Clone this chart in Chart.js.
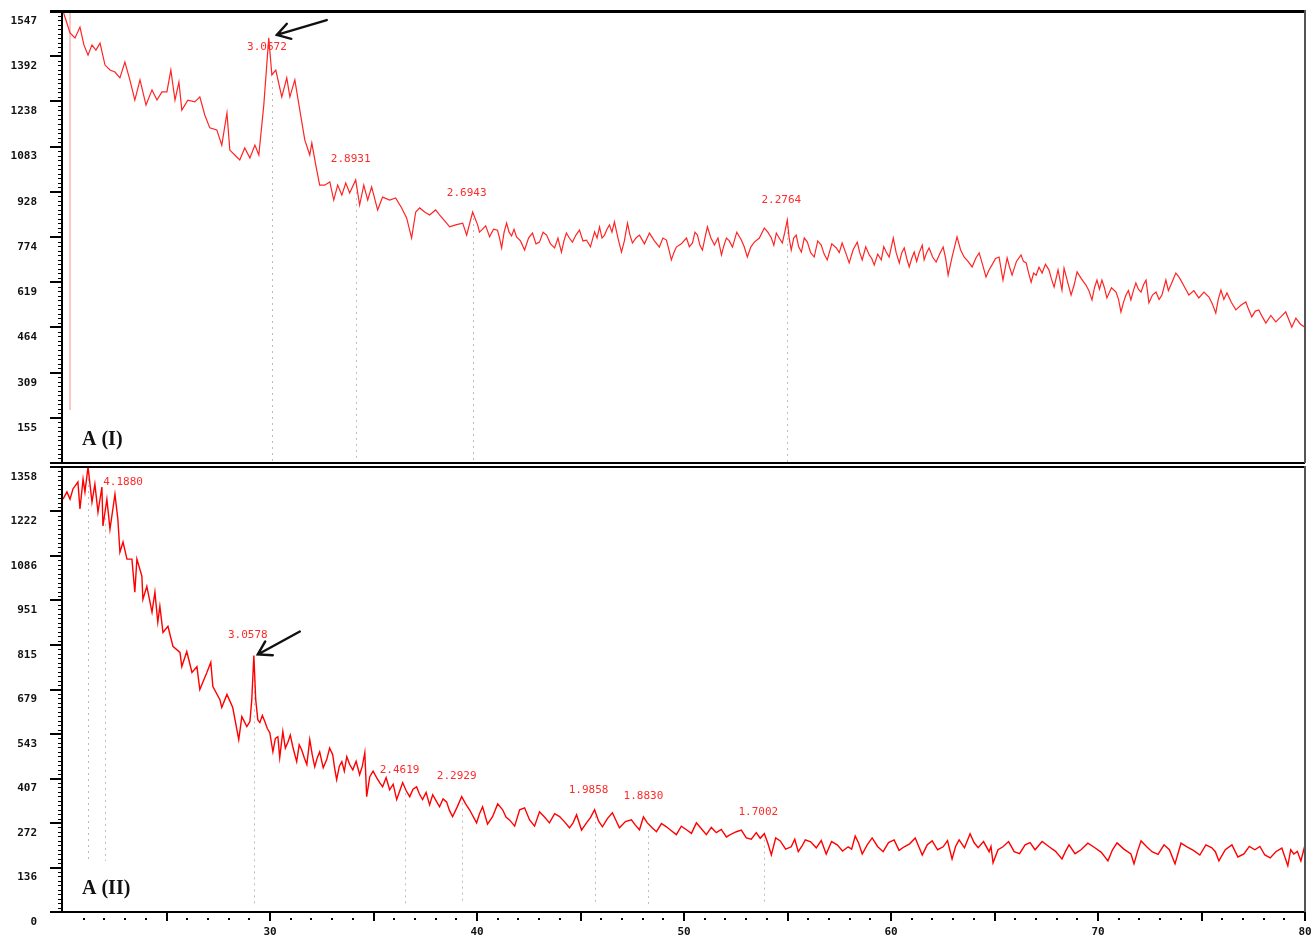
<!DOCTYPE html>
<html>
<head>
<meta charset="utf-8">
<script src="https://cdn.jsdelivr.net/npm/chart.js@4.4.1/dist/chart.umd.min.js"></script>
<style>
body { margin: 0; background: #fff; }
#wrap { position: relative; width: 1312px; height: 935px; overflow: hidden; }
canvas { position: absolute; left: 0; }
#cI { top: 0; }
#cII { top: 465px; }
</style>
</head>
<body>
<div id="wrap">
<canvas id="cI" width="1312" height="465"></canvas>
<canvas id="cII" width="1312" height="470"></canvas>
</div>
<script>
/* A (I) pattern: 2-theta and counts */
var twoThetaI = [
	20.00, 20.14, 20.34, 20.58, 20.82, 21.01, 21.21, 21.40, 21.59, 21.79,
	22.03, 22.27, 22.51, 22.75, 22.99, 23.23, 23.47, 23.72, 24.01, 24.30,
	24.54, 24.78, 25.02, 25.21, 25.41, 25.60, 25.74, 26.03, 26.37, 26.61,
	26.85, 27.09, 27.43, 27.67, 27.92, 28.06, 28.30, 28.54, 28.78, 29.03,
	29.27, 29.46, 29.70, 29.94, 30.09, 30.28, 30.57, 30.81, 30.96, 31.20,
	31.44, 31.68, 31.92, 32.02, 32.21, 32.40, 32.64, 32.89, 33.08, 33.27,
	33.47, 33.66, 33.85, 34.14, 34.33, 34.53, 34.72, 34.91, 35.20, 35.44,
	35.78, 36.07, 36.36, 36.60, 36.84, 37.04, 37.23, 37.47, 37.71, 38.00,
	38.19, 38.48, 38.68, 38.97, 39.31, 39.50, 39.79,
	40.03, 40.12, 40.22, 40.42, 40.61, 40.80, 40.99, 41.09, 41.19, 41.31,
	41.43, 41.55, 41.67, 41.79, 41.91, 42.10, 42.30, 42.49, 42.68, 42.85,
	43.02, 43.19, 43.36, 43.55, 43.75, 43.91, 44.08, 44.20, 44.32, 44.46,
	44.61, 44.78, 44.95, 45.12, 45.29, 45.48, 45.68, 45.80, 45.92, 46.04,
	46.16, 46.28, 46.40, 46.52, 46.64, 46.81, 46.98, 47.12, 47.27, 47.39,
	47.51, 47.68, 47.85, 48.09, 48.33, 48.57, 48.81, 48.98, 49.15, 49.27,
	49.39, 49.51, 49.63, 49.87, 50.12, 50.26, 50.41, 50.53, 50.65, 50.77,
	50.89, 51.01, 51.13, 51.30, 51.47, 51.64, 51.81, 51.93, 52.05, 52.19,
	52.34, 52.55, 52.77, 52.91, 53.06, 53.23, 53.40, 53.64, 53.88, 54.05,
	54.22, 54.34, 54.46, 54.60, 54.75, 54.87, 54.99, 55.08, 55.18, 55.30,
	55.42, 55.54, 55.67, 55.81, 55.96, 56.12, 56.29, 56.46, 56.63, 56.77,
	56.92, 57.14, 57.36, 57.50, 57.64, 57.81, 57.98, 58.17, 58.37, 58.49,
	58.61, 58.78, 58.95, 59.07, 59.19, 59.36, 59.53, 59.65, 59.77, 59.91,
	60.11, 60.25, 60.40, 60.52, 60.64, 60.76, 60.88, 61.00, 61.12, 61.24,
	61.36, 61.51, 61.60, 61.72, 61.84, 62.01, 62.18, 62.35, 62.52, 62.64,
	62.76, 62.95, 63.19, 63.36, 63.53, 63.72, 63.92, 64.09, 64.26, 64.42,
	64.59, 64.73, 64.88, 65.05, 65.22, 65.41, 65.61, 65.73, 65.85, 66.06,
	66.28, 66.40, 66.53, 66.65, 66.77, 66.89, 67.01, 67.15, 67.30, 67.46,
	67.63, 67.75, 67.88, 68.07, 68.26, 68.36, 68.53, 68.70, 68.85, 68.99,
	69.20, 69.42, 69.56, 69.71, 69.83, 69.95, 70.07, 70.19, 70.31, 70.43,
	70.65, 70.87, 70.99, 71.11, 71.23, 71.35, 71.47, 71.59, 71.71, 71.83,
	71.95, 72.08, 72.20, 72.32, 72.46, 72.63, 72.80, 72.95, 73.09, 73.28,
	73.40, 73.52, 73.64, 73.76, 73.88, 74.00, 74.20, 74.39, 74.63, 74.87,
	75.12, 75.36, 75.52, 75.69, 75.81, 75.94, 76.08, 76.23, 76.44, 76.66,
	76.90, 77.14, 77.28, 77.43, 77.60, 77.77, 77.94, 78.11, 78.35, 78.59,
	78.83, 79.07, 79.22, 79.36, 79.46, 79.56, 79.78, 80.00
];
var countsI = [
	1547, 1516, 1472, 1455, 1492, 1431, 1396, 1431, 1413, 1437,
	1362, 1345, 1338, 1318, 1372, 1311, 1242, 1311, 1225, 1277,
	1242, 1270, 1270, 1345, 1242, 1304, 1208, 1242, 1236, 1253,
	1191, 1147, 1140, 1088, 1198, 1071, 1054, 1037, 1078, 1044,
	1088, 1054, 1225, 1455, 1328, 1345, 1253, 1318, 1253, 1311,
	1208, 1106, 1054, 1095, 1020, 951, 951, 962, 900, 951,
	917, 958, 924, 969, 883, 951, 900, 945, 866, 910,
	900, 907, 873, 839, 770, 859, 873, 859, 849, 866,
	849, 825, 808, 815, 821, 780, 859,
	815, 790, 797, 812, 774, 800, 797, 770, 736, 790,
	821, 790, 777, 800, 774, 760, 729, 770, 787, 750,
	756, 790, 780, 750, 736, 770, 722, 760, 787, 770,
	756, 780, 797, 760, 763, 740, 791, 770, 808, 770,
	780, 800, 815, 790, 825, 770, 722, 760, 821, 780,
	753, 770, 780, 750, 787, 760, 739, 770, 763, 730,
	695, 720, 739, 750, 770, 740, 753, 790, 780, 745,
	729, 770, 808, 770, 746, 770, 712, 745, 770, 760,
	739, 790, 763, 740, 705, 740, 756, 770, 804, 790,
	770, 745, 787, 770, 753, 790, 832, 770, 729, 770,
	780, 740, 722, 770, 756, 720, 705, 760, 746, 715,
	695, 750, 736, 720, 753, 720, 685, 730, 756, 720,
	695, 740, 712, 700, 678, 715, 695, 740, 722, 705,
	770, 720, 685, 720, 736, 700, 671, 700, 722, 690,
	719, 746, 695, 720, 736, 705, 688, 715, 739, 700,
	643, 705, 774, 730, 705, 690, 671, 700, 719, 680,
	637, 660, 678, 700, 705, 626, 702, 670, 643, 690,
	712, 690, 685, 650, 619, 650, 643, 670, 650, 680,
	661, 630, 602, 661, 592, 667, 620, 575, 610, 654,
	630, 609, 590, 558, 600, 626, 595, 626, 600, 565,
	600, 585, 560, 517, 550, 575, 590, 558, 590, 616,
	595, 585, 610, 626, 548, 575, 585, 560, 575, 626,
	590, 609, 630, 650, 640, 626, 600, 575, 590, 565,
	585, 568, 545, 513, 560, 592, 560, 582, 550, 524,
	540, 551, 525, 500, 520, 524, 500, 479, 505, 483,
	500, 517, 490, 465, 480, 496, 475, 465
];

/* A (II) pattern */
var twoThetaII = [
	20.00, 20.19, 20.34, 20.48, 20.72, 20.82, 20.97, 21.06, 21.21, 21.40,
	21.54, 21.69, 21.88, 21.93, 22.12, 22.27, 22.51, 22.65, 22.75, 22.90,
	23.09, 23.33, 23.47, 23.57, 23.81, 23.86, 24.05, 24.30, 24.44, 24.58,
	24.68, 24.83, 25.07, 25.31, 25.65, 25.74, 25.98, 26.23, 26.47, 26.61,
	26.95, 27.14, 27.24, 27.58, 27.67, 27.92, 28.20, 28.49, 28.64, 28.88,
	29.03, 29.12, 29.22, 29.31, 29.41,
	29.51, 29.63, 29.75, 29.87, 29.99, 30.14, 30.26, 30.38, 30.47, 30.62,
	30.74, 30.86, 30.98, 31.10, 31.20, 31.29, 31.41, 31.53, 31.66, 31.78,
	31.92, 32.04, 32.16, 32.28, 32.40, 32.57, 32.74, 32.88, 33.03, 33.12,
	33.22, 33.35, 33.47, 33.59, 33.71, 33.85, 34.00, 34.16, 34.33, 34.46,
	34.58, 34.67, 34.82, 34.98, 35.15, 35.30, 35.44, 35.61, 35.78, 35.95,
	36.12, 36.27, 36.41, 36.58, 36.75, 36.91, 37.08, 37.22, 37.37, 37.54,
	37.71, 37.86, 38.02, 38.19, 38.36, 38.53, 38.67, 38.82, 39.04, 39.26,
	39.45, 39.64,
	39.98, 40.12, 40.27, 40.51, 40.75, 41.00, 41.24, 41.40, 41.57, 41.82,
	42.06, 42.30, 42.54, 42.78, 43.02, 43.26, 43.50, 43.75, 43.99, 44.23,
	44.47, 44.64, 44.81, 45.05, 45.29, 45.48, 45.68, 45.87, 46.06, 46.30,
	46.54, 46.71, 46.88, 47.17, 47.46, 47.65, 47.85, 48.04, 48.23, 48.45,
	48.67, 48.91, 49.15, 49.39, 49.63, 49.87, 50.12, 50.36, 50.60, 50.84,
	51.08, 51.32, 51.56, 51.80, 52.05, 52.29, 52.53, 52.77, 53.01, 53.25,
	53.49, 53.68, 53.88, 54.05, 54.22, 54.43, 54.65, 54.91, 55.18, 55.35,
	55.52, 55.69, 55.86, 56.12, 56.39, 56.63, 56.87, 57.13, 57.40, 57.66,
	57.93, 58.10, 58.27, 58.44, 58.61, 58.85, 59.09, 59.35, 59.62, 59.88,
	60.15, 60.39, 60.64, 60.90, 61.17, 61.34, 61.51, 61.75, 61.99, 62.25,
	62.52, 62.73, 62.95, 63.12, 63.29, 63.55, 63.82, 64.01, 64.21, 64.47,
	64.74, 64.83, 64.93, 65.17, 65.41, 65.68, 65.95, 66.21, 66.48, 66.72,
	66.96, 67.30, 67.64, 67.95, 68.26, 68.43, 68.60, 68.89, 69.18, 69.51,
	69.85, 70.16, 70.48, 70.70, 70.92, 71.25, 71.59, 71.74, 71.91, 72.08,
	72.34, 72.61, 72.90, 73.19, 73.45, 73.72, 74.01, 74.30, 74.61, 74.92,
	75.21, 75.50, 75.67, 75.84, 76.15, 76.47, 76.76, 77.05, 77.31, 77.58,
	77.82, 78.06, 78.32, 78.59, 78.88, 79.17, 79.31, 79.46, 79.63, 79.80,
	79.90, 80.00
];
var countsII = [
	1260, 1282, 1260, 1291, 1312, 1230, 1321, 1282, 1358, 1251,
	1306, 1220, 1297, 1178, 1260, 1168, 1275, 1199, 1098, 1129,
	1077, 1077, 976, 1077, 1025, 954, 994, 915, 976, 884,
	933, 853, 872, 811, 792, 749, 795, 731, 749, 679,
	731, 762, 688, 648, 624, 664, 624, 526, 596, 566,
	581, 648, 783, 648, 587,
	578, 600, 581, 560, 547, 489, 530, 535, 471, 551,
	500, 517, 540, 505, 480, 459, 510, 495, 470, 450,
	526, 480, 443, 470, 489, 440, 465, 500, 480, 440,
	404, 445, 459, 430, 474, 450, 434, 460, 419, 445,
	486, 352, 413, 430, 410, 395, 382, 410, 373, 390,
	343, 370, 395, 370, 352, 375, 382, 360, 343, 365,
	327, 358, 340, 321, 345, 336, 310, 291, 320, 352,
	330, 312,
	272, 300, 321, 268, 291, 330, 312, 290, 281, 262,
	312, 318, 281, 262, 306, 290, 272, 300, 291, 275,
	257, 272, 297, 250, 272, 288, 312, 278, 260, 285,
	303, 280, 257, 276, 281, 265, 251, 290, 272, 258,
	245, 270, 260, 248, 236, 262, 251, 240, 272, 254,
	236, 258, 242, 252, 229, 238, 245, 250, 226, 222,
	242, 225, 239, 210, 174, 226, 217, 192, 199, 222,
	184, 200, 220, 214, 196, 218, 177, 215, 205, 186,
	199, 192, 232, 210, 177, 205, 226, 200, 184, 212,
	220, 188, 199, 208, 226, 200, 174, 205, 217, 190,
	199, 218, 162, 200, 220, 196, 239, 212, 196, 215,
	184, 200, 150, 190, 199, 215, 184, 178, 205, 212,
	190, 215, 199, 185, 162, 185, 205, 178, 190, 210,
	196, 182, 156, 190, 211, 192, 177, 147, 185, 217,
	200, 184, 176, 205, 190, 147, 210, 199, 188, 174,
	205, 196, 184, 156, 190, 205, 168, 177, 200, 190,
	200, 174, 165, 184, 195, 141, 190, 177, 185, 156,
	180, 205
];

/* tick labels */
var yTicksI = [155, 309, 464, 619, 774, 928, 1083, 1238, 1392, 1547];
var yTicksII = [0, 136, 272, 407, 543, 679, 815, 951, 1086, 1222, 1358];
var xTickLabels = [30, 40, 50, 60, 70, 80];

/* marked reflections (d-spacing labels) */
var peakLinesI = [30.09, 34.14, 39.79, 54.99];
var dTextI = ["3.0672", "2.8931", "2.6943", "2.2764"];
var dTextXI = [29.85, 33.90, 39.50, 54.70];
var dTextYI = [1424, 1040, 924, 900];

var peakLinesII = [21.21, 22.03, 29.22, 36.51, 39.26, 45.68, 48.28, 53.88];
var dTextII = ["4.1880", "3.0578", "2.4619", "2.2929", "1.9858", "1.8830", "1.7002"];
var dTextXII = [22.90, 28.93, 36.26, 39.02, 45.39, 48.04, 53.59];
var dTextYII = [1312, 844, 434, 416, 373, 355, 306];

/* arrows: [x tail, y tail, x tip, y tip] */
var arrowI = [32.74, 1516, 30.33, 1465];
var arrowII = [31.44, 856, 29.41, 786];

function curveAt(xs, ys, x) {
	for (var i = 1; i < xs.length; i++) {
		if (xs[i] >= x) {
			var t = (x - xs[i - 1]) / (xs[i] - xs[i - 1]);
			return ys[i - 1] + t * (ys[i] - ys[i - 1]);
		}
	}
	return ys[ys.length - 1];
}

function pts(xs, ys) {
	return xs.map(function (x, i) { return { x: x, y: ys[i] }; });
}

/* Desenhar eixos, picos e anotacoes */
function decor(o) {
	return {
		id: "decor",
		beforeDatasetsDraw: function (chart) {
			var ctx = chart.ctx, xs = chart.scales.x, ys = chart.scales.y, a = chart.chartArea;
			ctx.save();
			ctx.strokeStyle = "#bcbcbc";
			ctx.lineWidth = 1;
			ctx.setLineDash([2, 4]);
			o.lines.forEach(function (p) {
				var px = Math.round(xs.getPixelForValue(p)) + 0.5;
				var top = ys.getPixelForValue(curveAt(o.xv, o.yv, p)) + 6;
				ctx.beginPath();
				ctx.moveTo(px, top);
				ctx.lineTo(px, a.bottom - o.gap);
				ctx.stroke();
			});
			ctx.restore();
		},
		afterDatasetsDraw: function (chart) {
			var ctx = chart.ctx, xs = chart.scales.x, ys = chart.scales.y, a = chart.chartArea;
			ctx.save();
			// white box behind the panel tag
			ctx.fillStyle = "#fff";
			ctx.fillRect(a.left + 1, a.bottom - 51, 88, 50);
			ctx.fillStyle = "#111";
			ctx.font = "bold 20px 'Liberation Serif'";
			ctx.textBaseline = "alphabetic";
			ctx.fillText(o.tag, a.left + 19, a.bottom - 18);

			// d-spacing labels
			ctx.fillStyle = "#ff2a2a";
			ctx.font = "11px 'DejaVu Sans Mono'";
			ctx.textAlign = "center";
			ctx.textBaseline = "middle";
			o.dText.forEach(function (t, i) {
				ctx.fillText(t, xs.getPixelForValue(o.dX[i]), ys.getPixelForValue(o.dY[i]));
			});

			// arrow
			var x1 = xs.getPixelForValue(o.arrow[0]), y1 = ys.getPixelForValue(o.arrow[1]);
			var x2 = xs.getPixelForValue(o.arrow[2]), y2 = ys.getPixelForValue(o.arrow[3]);
			var ang = Math.atan2(y1 - y2, x1 - x2);
			ctx.strokeStyle = "#111";
			ctx.lineWidth = 2.4;
			ctx.lineCap = "round";
			ctx.beginPath();
			ctx.moveTo(x1, y1);
			ctx.lineTo(x2, y2);
			ctx.moveTo(x2 + 15 * Math.cos(ang - 0.55), y2 + 15 * Math.sin(ang - 0.55));
			ctx.lineTo(x2, y2);
			ctx.lineTo(x2 + 15 * Math.cos(ang + 0.55), y2 + 15 * Math.sin(ang + 0.55));
			ctx.stroke();

			// frame
			ctx.fillStyle = "#000";
			ctx.fillRect(50, a.top - 1, a.right - 50, o.topW);
			ctx.fillRect(50, a.bottom - 1, a.right - 50, 2);
			ctx.fillRect(a.left - 2, a.top - 1, 2, a.bottom - a.top + 1);
			ctx.fillStyle = "#555";
			ctx.fillRect(a.right - 1, a.top - 1, 2, a.bottom - a.top + 1);

			// y ticks
			ctx.fillStyle = "#000";
			var max = ys.max;
			for (var k = 1; k < 100; k++) {
				var py = Math.round(ys.getPixelForValue(max * k / 100));
				if (k % 10 === 0) ctx.fillRect(50, py - 1, 13, 2);
				else ctx.fillRect(58, py, 5, 1);
			}

			// x ticks on the lower panel
			if (o.xAxis) {
				for (var v = 21; v <= 80; v++) {
					var px = Math.round(xs.getPixelForValue(v));
					if (v % 10 === 0) ctx.fillRect(px - 1, a.bottom, 2, 9);
					else if (v % 5 === 0) ctx.fillRect(px - 1, a.bottom + 1, 2, 8);
					else ctx.fillRect(px - 1, a.bottom + 6, 2, 2);
				}
			}
			ctx.restore();
		}
	};
}

var yFont = { family: "DejaVu Sans Mono", size: 11, weight: "bold" };

function yScale(max, ticks) {
	return {
		type: "linear",
		min: 0,
		max: max,
		afterBuildTicks: function (s) { s.ticks = ticks.map(function (v) { return { value: v }; }); },
		afterFit: function (s) { s.width = 63; s.paddingTop = 0; s.paddingBottom = 0; },
		grid: { display: false, drawTicks: false },
		border: { display: false },
		ticks: { padding: 26, labelOffset: 10, font: yFont, color: "#111", autoSkip: false,
			callback: function (v) { return String(v); } }
	};
}

var baseOpts = {
	responsive: false,
	animation: false,
	devicePixelRatio: 1,
	plugins: { legend: { display: false }, tooltip: { enabled: false } },
	elements: { point: { radius: 0 }, line: { tension: 0 } }
};

/* Criar grafico A (I) */
var chartI = new Chart(document.getElementById("cI"), {
	type: "line",
	data: {
		datasets: [
			{ data: pts(twoThetaI, countsI), borderColor: "#ff2424", borderWidth: 1.2 },
			{ data: [{ x: 20.34, y: 1547 }, { x: 20.34, y: 181 }], borderColor: "#ffb3b3", borderWidth: 1.5 }
		]
	},
	options: Object.assign({}, baseOpts, {
		layout: { padding: { left: 0, top: 11, right: 7, bottom: 2 } },
		scales: {
			x: { type: "linear", min: 20, max: 80, display: false },
			y: yScale(1547, yTicksI)
		}
	}),
	plugins: [decor({ xv: twoThetaI, yv: countsI, lines: peakLinesI, gap: 0, dText: dTextI, dX: dTextXI, dY: dTextYI,
		arrow: arrowI, tag: "A (I)", topW: 3, xAxis: false })]
});

/* Criar grafico A (II) */
var chartII = new Chart(document.getElementById("cII"), {
	type: "line",
	data: {
		datasets: [
			{ data: pts(twoThetaII, countsII), borderColor: "#ff0000", borderWidth: 1.4 }
		]
	},
	options: Object.assign({}, baseOpts, {
		layout: { padding: { left: 0, top: 2, right: 7, bottom: 0 } },
		scales: {
			x: {
				type: "linear", min: 20, max: 80,
				afterBuildTicks: function (s) { s.ticks = xTickLabels.map(function (v) { return { value: v }; }); },
				afterFit: function (s) { s.height = 23; s.paddingLeft = 0; s.paddingRight = 0; },
				grid: { display: false, drawTicks: false },
				border: { display: false },
				ticks: { padding: 14, font: yFont, color: "#111", autoSkip: false, maxRotation: 0,
					callback: function (v) { return String(v); } }
			},
			y: yScale(1358, yTicksII)
		}
	}),
	plugins: [decor({ xv: twoThetaII, yv: countsII, lines: peakLinesII, gap: 8, dText: dTextII, dX: dTextXII, dY: dTextYII,
		arrow: arrowII, tag: "A (II)", topW: 2, xAxis: true })]
});
</script>
</body>
</html>
